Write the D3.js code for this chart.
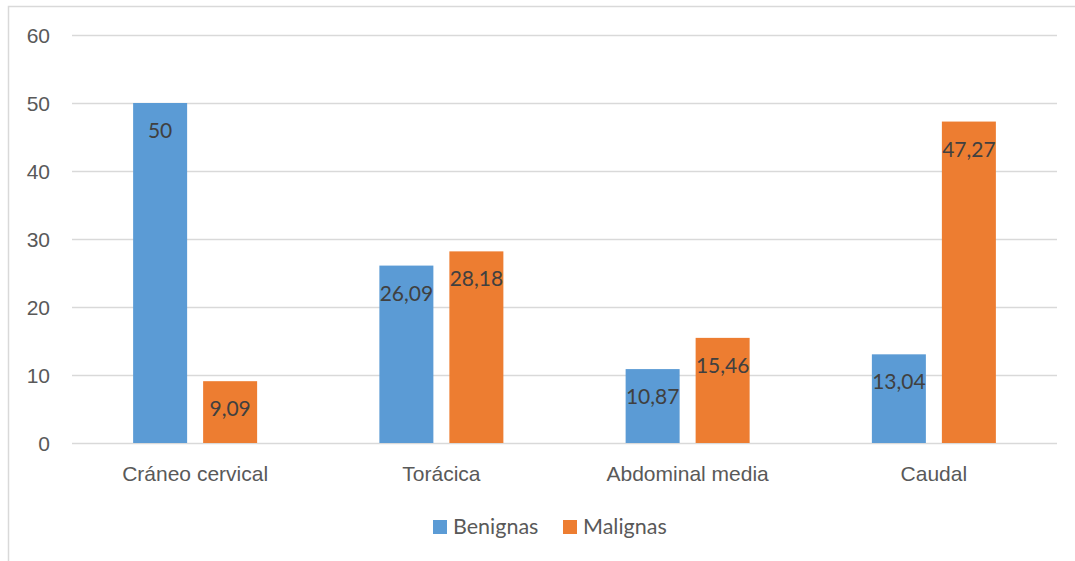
<!doctype html>
<html lang="es">
<head>
<meta charset="utf-8">
<title>Benignas / Malignas</title>
<script src="https://d3js.org/d3.v7.min.js"></script>
<style>
  body { margin: 0; background: #fff; }
  svg { display: block; font-family: Lato, "Open Sans", sans-serif; }
  .grid line { stroke: #d9d9d9; stroke-width: 1.5; }
  .grid text { fill: #595959; font-size: 21px; }
  .cat text { fill: #595959; font-size: 21px; }
  .val { fill: #404040; font-size: 21px; }
  .legend text { fill: #595959; font-size: 21.5px; }
</style>
</head>
<body>
<div id="chart"></div>
<script>
const categories = ['Cráneo cervical', 'Torácica', 'Abdominal media', 'Caudal'];
const seriesNames = ['Benignas', 'Malignas'];
const benignas = [50, 26.09, 10.87, 13.04];
const malignas = [9.09, 28.18, 15.46, 47.27];
const yTicks = [0, 10, 20, 30, 40, 50, 60];
const colors = ['#5b9bd5', '#ed7d31'];

const W = 1075, H = 561;
const plotLeft = 72, plotRight = 1057, plotTop = 35, plotBottom = 443;

const svg = d3.select('#chart').append('svg')
    .attr('width', W)
    .attr('height', H);

// outer frame (only top & left visible in the original crop)
svg.append('rect')
    .attr('x', 8.5).attr('y', 6.5)
    .attr('width', W + 20).attr('height', H + 20)
    .attr('fill', 'none')
    .attr('stroke', '#d9d9d9')
    .attr('stroke-width', 1.5);

const x = d3.scaleBand()
    .domain(categories)
    .range([plotLeft, plotRight])
    .padding(0);

// two bars of 54px with a 16px gap inside each 246px band
const inner = d3.scaleBand()
    .domain(seriesNames)
    .range([0, x.bandwidth()])
    .paddingInner(16 / 70)
    .paddingOuter(((x.bandwidth() - 124) / 2) / 70);

const y = d3.scaleLinear()
    .domain([0, 60])
    .range([plotBottom, plotTop]);

const yAxis = d3.axisLeft(y)
    .tickValues(yTicks)
    .tickSize(-(plotRight - plotLeft))
    .tickPadding(22)
    .tickFormat(d3.format('d'));

const gy = svg.append('g')
    .attr('class', 'grid')
    .attr('transform', `translate(${plotLeft},0)`)
    .call(yAxis);
gy.select('.domain').remove();
gy.selectAll('text').attr('dy', '0.35em');

const rows = categories.map((c, i) => ({
  cat: c,
  values: [
    { name: seriesNames[0], v: benignas[i] },
    { name: seriesNames[1], v: malignas[i] }
  ]
}));

const groups = svg.append('g').selectAll('g')
  .data(rows)
  .join('g')
    .attr('transform', d => `translate(${x(d.cat)},0)`);

groups.selectAll('rect')
  .data(d => d.values)
  .join('rect')
    .attr('x', d => inner(d.name))
    .attr('y', d => y(d.v))
    .attr('width', inner.bandwidth())
    .attr('height', d => y(0) - y(d.v))
    .attr('fill', (d, i) => colors[i]);

const fmt = v => (Number.isInteger(v) ? String(v) : v.toFixed(2).replace('.', ','));

groups.selectAll('text.val')
  .data(d => d.values)
  .join('text')
    .attr('class', 'val')
    .attr('x', d => inner(d.name) + inner.bandwidth() / 2)
    .attr('y', d => y(d.v) + 35)
    .attr('text-anchor', 'middle')
    .text(d => fmt(d.v));

const xAxis = d3.axisBottom(x).tickSize(0).tickPadding(0);
const gx = svg.append('g')
    .attr('class', 'cat')
    .attr('transform', `translate(0,${plotBottom})`)
    .call(xAxis);
gx.select('.domain').remove();
gx.selectAll('text').attr('dy', null).attr('y', 38);

// legend
const legend = svg.append('g').attr('class', 'legend');
const legendX = [433, 563];
seriesNames.forEach((name, i) => {
  legend.append('rect')
      .attr('x', legendX[i]).attr('y', 520)
      .attr('width', 14).attr('height', 14)
      .attr('fill', colors[i]);
  legend.append('text')
      .attr('x', legendX[i] + 20).attr('y', 534)
      .text(name);
});
</script>
</body>
</html>
